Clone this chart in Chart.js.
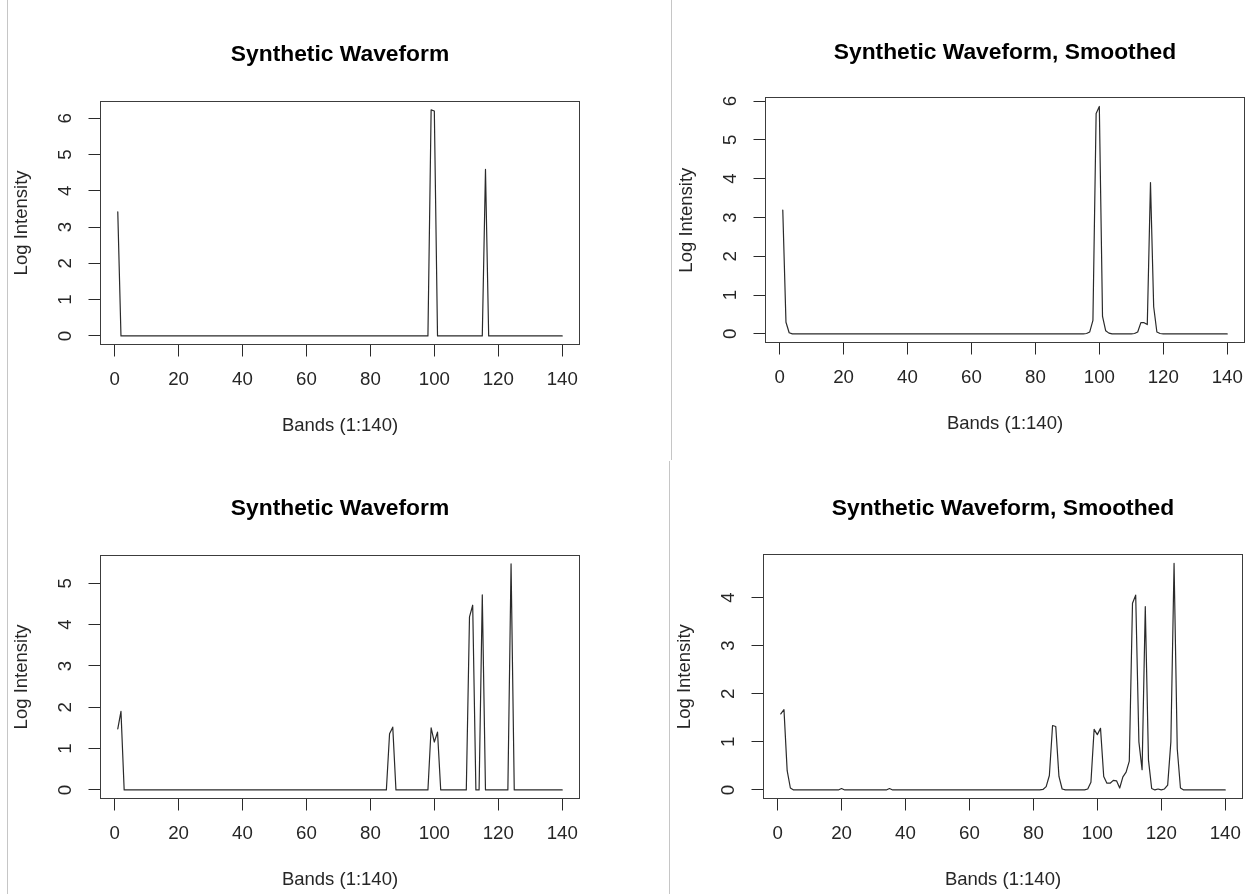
<!DOCTYPE html>
<html>
<head>
<meta charset="utf-8">
<script src="https://cdn.jsdelivr.net/npm/chart.js@4.4.1/dist/chart.umd.min.js"></script>
<style>
  html, body { margin: 0; padding: 0; background: #fff; width: 1248px; height: 894px; overflow: hidden; }
  .panel { position: absolute; width: 600px; height: 454px; }
  .rule { position: absolute; width: 1px; background: #c6c6c6; }
</style>
</head>
<body>
<div class="rule" style="left:7px; top:0; height:894px"></div>
<div class="rule" style="left:671px; top:0; height:460px"></div>
<div class="rule" style="left:669px; top:461px; height:433px"></div>

<div class="panel" style="left:0px; top:0px"><canvas id="rawA" width="600" height="454"></canvas></div>
<div class="panel" style="left:665px; top:-2px"><canvas id="smoothA" width="600" height="454"></canvas></div>
<div class="panel" style="left:0px; top:454px"><canvas id="rawB" width="600" height="454"></canvas></div>
<div class="panel" style="left:663px; top:454px"><canvas id="smoothB" width="600" height="454"></canvas></div>

<script>
// Band index 1..140 along the x axis
const bands = Array.from({ length: 140 }, (_, i) => i + 1);
const xTicks = [0, 20, 40, 60, 80, 100, 120, 140];

// Log intensity per band, waveform A (raw)
const waveA = [
  3.42, 0, 0, 0, 0, 0, 0, 0, 0, 0, 0, 0, 0, 0, 0, 0, 0, 0, 0, 0,
  0, 0, 0, 0, 0, 0, 0, 0, 0, 0, 0, 0, 0, 0, 0, 0, 0, 0, 0, 0,
  0, 0, 0, 0, 0, 0, 0, 0, 0, 0, 0, 0, 0, 0, 0, 0, 0, 0, 0, 0,
  0, 0, 0, 0, 0, 0, 0, 0, 0, 0, 0, 0, 0, 0, 0, 0, 0, 0, 0, 0,
  0, 0, 0, 0, 0, 0, 0, 0, 0, 0, 0, 0, 0, 0, 0, 0, 0, 0, 6.23, 6.20,
  0, 0, 0, 0, 0, 0, 0, 0, 0, 0, 0, 0, 0, 0, 0, 4.59, 0, 0, 0, 0,
  0, 0, 0, 0, 0, 0, 0, 0, 0, 0, 0, 0, 0, 0, 0, 0, 0, 0, 0, 0
];

// Waveform A after smoothing
const waveASmooth = [
  3.19, 0.30, 0.03, 0, 0, 0, 0, 0, 0, 0, 0, 0, 0, 0, 0, 0, 0, 0, 0, 0,
  0, 0, 0, 0, 0, 0, 0, 0, 0, 0, 0, 0, 0, 0, 0, 0, 0, 0, 0, 0,
  0, 0, 0, 0, 0, 0, 0, 0, 0, 0, 0, 0, 0, 0, 0, 0, 0, 0, 0, 0,
  0, 0, 0, 0, 0, 0, 0, 0, 0, 0, 0, 0, 0, 0, 0, 0, 0, 0, 0, 0,
  0, 0, 0, 0, 0, 0, 0, 0, 0, 0, 0, 0, 0, 0, 0, 0.01, 0.05, 0.35, 5.68, 5.86,
  0.45, 0.08, 0.02, 0, 0, 0, 0, 0, 0, 0, 0.01, 0.05, 0.29, 0.29, 0.24, 3.90, 0.70, 0.05, 0.01, 0,
  0, 0, 0, 0, 0, 0, 0, 0, 0, 0, 0, 0, 0, 0, 0, 0, 0, 0, 0, 0
];

// Log intensity per band, waveform B (raw)
const waveB = [
  1.48, 1.90, 0, 0, 0, 0, 0, 0, 0, 0, 0, 0, 0, 0, 0, 0, 0, 0, 0, 0,
  0, 0, 0, 0, 0, 0, 0, 0, 0, 0, 0, 0, 0, 0, 0, 0, 0, 0, 0, 0,
  0, 0, 0, 0, 0, 0, 0, 0, 0, 0, 0, 0, 0, 0, 0, 0, 0, 0, 0, 0,
  0, 0, 0, 0, 0, 0, 0, 0, 0, 0, 0, 0, 0, 0, 0, 0, 0, 0, 0, 0,
  0, 0, 0, 0, 0, 1.36, 1.52, 0, 0, 0, 0, 0, 0, 0, 0, 0, 0, 0, 1.50, 1.16,
  1.40, 0, 0, 0, 0, 0, 0, 0, 0, 0, 4.19, 4.47, 0, 0, 4.72, 0, 0, 0, 0, 0,
  0, 0, 0, 5.47, 0, 0, 0, 0, 0, 0, 0, 0, 0, 0, 0, 0, 0, 0, 0, 0
];

// Waveform B after smoothing
const waveBSmooth = [
  1.58, 1.67, 0.40, 0.04, 0, 0, 0, 0, 0, 0, 0, 0, 0, 0, 0, 0, 0, 0, 0, 0.03,
  0, 0, 0, 0, 0, 0, 0, 0, 0, 0, 0, 0, 0, 0, 0.03, 0, 0, 0, 0, 0,
  0, 0, 0, 0, 0, 0, 0, 0, 0, 0, 0, 0, 0, 0, 0, 0, 0, 0, 0, 0,
  0, 0, 0, 0, 0, 0, 0, 0, 0, 0, 0, 0, 0, 0, 0, 0, 0, 0, 0, 0,
  0, 0, 0.01, 0.07, 0.30, 1.34, 1.32, 0.28, 0.02, 0, 0, 0, 0, 0, 0, 0, 0.02, 0.16, 1.26, 1.15,
  1.28, 0.28, 0.14, 0.14, 0.20, 0.19, 0.04, 0.27, 0.37, 0.60, 3.88, 4.05, 1.00, 0.42, 3.81, 0.62, 0.03, 0, 0.02, 0,
  0.02, 0.10, 1.00, 4.71, 0.85, 0.04, 0, 0, 0, 0, 0, 0, 0, 0, 0, 0, 0, 0, 0, 0
];

const FONT = "'Liberation Sans', Arial, Helvetica, sans-serif";
const INK = '#2a2a2a';
const TEXT = '#262626';

// Box around the plotting region
const frame = {
  id: 'frame',
  afterDraw(chart) {
    const { ctx, chartArea: a } = chart;
    ctx.save();
    ctx.strokeStyle = '#3c3c3c';
    ctx.lineWidth = 1;
    ctx.strokeRect(Math.round(a.left) + 0.5, Math.round(a.top) + 0.5,
                   Math.round(a.right - a.left) - 1, Math.round(a.bottom - a.top) - 1);
    ctx.restore();
  }
};

function drawPanel(id, title, values, yTicks, titleGap) {
  // axis limits padded by 4% of the data range on each side
  const xSpan = bands[bands.length - 1] - bands[0];
  const yLo = Math.min(...values), yHi = Math.max(...values);
  const ySpan = yHi - yLo;

  new Chart(document.getElementById(id), {
    type: 'line',
    data: {
      datasets: [{
        data: bands.map((b, i) => ({ x: b, y: values[i] })),
        borderColor: INK,
        borderWidth: 1.2,
        borderJoinStyle: 'round',
        borderCapStyle: 'round',
        pointRadius: 0,
        tension: 0,
        fill: false
      }]
    },
    options: {
      responsive: false,
      animation: false,
      events: [],
      layout: { padding: { left: 0, right: 20, top: 0, bottom: 0 } },
      plugins: {
        legend: { display: false },
        tooltip: { enabled: false },
        title: {
          display: true,
          text: title,
          fullSize: false,
          color: '#000',
          font: { family: FONT, size: 22.8, weight: 'bold', lineHeight: 1.2 },
          padding: { top: 41.5, bottom: titleGap }
        }
      },
      scales: {
        x: {
          type: 'linear',
          min: bands[0] - 0.04 * xSpan,
          max: bands[bands.length - 1] + 0.04 * xSpan,
          afterBuildTicks: s => { s.ticks = xTicks.map(v => ({ value: v })); },
          afterFit: s => { s.height = 109; },
          ticks: {
            font: { family: FONT, size: 18.7 },
            color: TEXT,
            padding: 12.5,
            maxRotation: 0,
            minRotation: 0,
            autoSkip: false
          },
          grid: { drawOnChartArea: false, drawTicks: true, tickLength: 11.5, color: INK, lineWidth: 1 },
          border: { display: false },
          title: {
            display: true,
            text: 'Bands (1:140)',
            color: TEXT,
            font: { family: FONT, size: 18.5, lineHeight: 1.2 },
            padding: { top: 0, bottom: 17 }
          }
        },
        y: {
          type: 'linear',
          min: yLo - 0.04 * ySpan,
          max: yHi + 0.04 * ySpan,
          afterBuildTicks: s => { s.ticks = yTicks.map(v => ({ value: v })); },
          afterFit: s => { s.width = 100; },
          ticks: {
            font: { family: FONT, size: 18.7 },
            color: TEXT,
            padding: 17,
            minRotation: 90,
            maxRotation: 90,
            crossAlign: 'center',
            autoSkip: false
          },
          grid: { drawOnChartArea: false, drawTicks: true, tickLength: 11.5, color: INK, lineWidth: 1 },
          border: { display: false },
          title: {
            display: true,
            text: 'Log Intensity',
            color: TEXT,
            font: { family: FONT, size: 18.5, lineHeight: 1.2 },
            padding: { top: 11, bottom: 0 }
          }
        }
      }
    },
    plugins: [frame]
  });
}

drawPanel('rawA', 'Synthetic Waveform', waveA, [0, 1, 2, 3, 4, 5, 6], 32);
drawPanel('smoothA', 'Synthetic Waveform, Smoothed', waveASmooth, [0, 1, 2, 3, 4, 5, 6], 30.5);
drawPanel('rawB', 'Synthetic Waveform', waveB, [0, 1, 2, 3, 4, 5], 32);
drawPanel('smoothB', 'Synthetic Waveform, Smoothed', waveBSmooth, [0, 1, 2, 3, 4], 31.5);
</script>
</body>
</html>
